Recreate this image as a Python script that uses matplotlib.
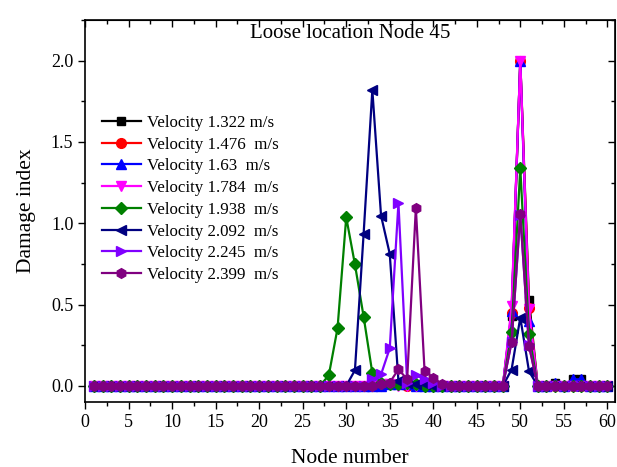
import matplotlib
matplotlib.use('Agg')
from matplotlib import pyplot as plt
from matplotlib.ticker import MultipleLocator

# node numbers 1..60
nodes = list(range(1, 61))

# damage index per velocity
v1322 = [0, 0, 0, 0, 0, 0, 0, 0, 0, 0,
         0, 0, 0, 0, 0, 0, 0, 0, 0, 0,
         0, 0, 0, 0, 0, 0, 0, 0, 0, 0,
         0, 0, 0, 0, 0.01, 0.01, 0.01, 0, 0, 0,
         0, 0, 0, 0, 0, 0, 0, 0, 0.43, 2.0,
         0.53, 0, 0, 0.02, 0, 0.04, 0.04, 0, 0, 0]
v1476 = [0, 0, 0, 0, 0, 0, 0, 0, 0, 0,
         0, 0, 0, 0, 0, 0, 0, 0, 0, 0,
         0, 0, 0, 0, 0, 0, 0, 0, 0, 0,
         0, 0, 0, 0, 0.01, 0.01, 0, 0, 0, 0,
         0, 0, 0, 0, 0, 0, 0, 0, 0.45, 2.0,
         0.48, 0, 0, 0, 0, 0, 0, 0, 0, 0]
v1630 = [0, 0, 0, 0, 0, 0, 0, 0, 0, 0,
         0, 0, 0, 0, 0, 0, 0, 0, 0, 0,
         0, 0, 0, 0, 0, 0, 0, 0, 0, 0,
         0, 0, 0, 0, 0.01, 0.01, 0.01, 0, 0, 0,
         0, 0, 0, 0, 0, 0, 0, 0, 0.46, 2.0,
         0.40, 0, 0, 0.02, 0, 0.04, 0.04, 0, 0, 0]
v1784 = [0, 0, 0, 0, 0, 0, 0, 0, 0, 0,
         0, 0, 0, 0, 0, 0, 0, 0, 0, 0,
         0, 0, 0, 0, 0, 0, 0, 0, 0, 0,
         0, 0, 0, 0.01, 0.01, 0, 0, 0, 0, 0,
         0, 0, 0, 0, 0, 0, 0, 0, 0.49, 2.0,
         0.47, 0, 0, 0, 0, 0, 0, 0, 0, 0]
v1938 = [0, 0, 0, 0, 0, 0, 0, 0, 0, 0,
         0, 0, 0, 0, 0, 0, 0, 0, 0, 0,
         0, 0, 0, 0, 0, 0, 0, 0.066, 0.354, 1.037,
         0.747, 0.425, 0.078, 0.02, 0.01, 0.01, 0.02, 0.01, 0, 0,
         0, 0, 0, 0, 0, 0, 0, 0, 0.33, 1.34,
         0.32, 0, 0, 0, 0, 0, 0, 0, 0, 0]
v2092 = [0, 0, 0, 0, 0, 0, 0, 0, 0, 0,
         0, 0, 0, 0, 0, 0, 0, 0, 0, 0,
         0, 0, 0, 0, 0, 0, 0, 0, 0, 0,
         0.096, 0.937, 1.82, 1.047, 0.812, 0.03, 0.02, 0.01, 0.01, 0,
         0, 0, 0, 0, 0, 0, 0, 0, 0.10, 0.42,
         0.09, 0, 0, 0, 0, 0, 0, 0, 0, 0]
v2245 = [0, 0, 0, 0, 0, 0, 0, 0, 0, 0,
         0, 0, 0, 0, 0, 0, 0, 0, 0, 0,
         0, 0, 0, 0, 0, 0, 0, 0, 0, 0,
         0, 0, 0.04, 0.07, 0.231, 1.125, 0.02, 0.066, 0.04, 0.02,
         0, 0, 0, 0, 0, 0, 0, 0, 0.27, 1.05,
         0.25, 0, 0, 0, 0, 0, 0, 0, 0, 0]
v2399 = [0, 0, 0, 0, 0, 0, 0, 0, 0, 0,
         0, 0, 0, 0, 0, 0, 0, 0, 0, 0,
         0, 0, 0, 0, 0, 0, 0, 0, 0, 0,
         0, 0, 0, 0.01, 0.02, 0.102, 0.04, 1.094, 0.092, 0.05,
         0.01, 0, 0, 0, 0, 0, 0, 0, 0.27, 1.06,
         0.245, 0, 0, 0, 0, 0, 0, 0, 0, 0]

series = [v1322, v1476, v1630, v1784, v1938, v2092, v2245, v2399]
labels = ['Velocity 1.322 m/s', 'Velocity 1.476  m/s', 'Velocity 1.63  m/s',
          'Velocity 1.784  m/s', 'Velocity 1.938  m/s', 'Velocity 2.092  m/s',
          'Velocity 2.245  m/s', 'Velocity 2.399  m/s']
colors = ['black', 'red', 'blue', '#FF00FF', '#008000', '#000080', '#8000FF', '#800080']
markers = ['s', 'o', '^', 'v', 'D', '<', '>', 'h']

plt.rcParams['font.family'] = ['Liberation Serif', 'DejaVu Serif']

fig = plt.figure(figsize=(6.17, 4.67), dpi=100)
ax = fig.add_axes([0.138, 0.139, 0.859, 0.818])

# draw each velocity curve
for ys, lab, c, m in zip(series, labels, colors, markers):
    ms = 6 if m in ('D', 's') else 7
    ax.plot(nodes, ys, color=c, marker=m, markersize=ms, linewidth=1.6,
            markeredgecolor=c, label=lab)

ax.set_xlim(0, 60.9)
ax.set_ylim(-0.1, 2.25)
ax.xaxis.set_major_locator(MultipleLocator(5))
ax.xaxis.set_minor_locator(MultipleLocator(2.5))
ax.yaxis.set_major_locator(MultipleLocator(0.5))
ax.yaxis.set_minor_locator(MultipleLocator(0.25))
ax.yaxis.set_major_formatter(plt.FormatStrFormatter('%.1f'))
ax.tick_params(which='both', direction='out', labelsize=13, width=1)
ax.tick_params(which='major', length=5)
ax.tick_params(which='minor', length=3)

# mirrored ticks on top/right pointing inward, no labels
top = ax.secondary_xaxis('top')
top.xaxis.set_major_locator(MultipleLocator(5))
top.xaxis.set_minor_locator(MultipleLocator(2.5))
top.tick_params(which='both', direction='in', labeltop=False, width=1)
top.tick_params(which='major', length=5)
top.tick_params(which='minor', length=3)
right = ax.secondary_yaxis('right')
right.yaxis.set_major_locator(MultipleLocator(0.5))
right.yaxis.set_minor_locator(MultipleLocator(0.25))
right.tick_params(which='both', direction='in', labelright=False, width=1)
right.tick_params(which='major', length=5)
right.tick_params(which='minor', length=3)

for s in ax.spines.values():
    s.set_linewidth(1.2)

ax.set_xlabel('Node number', fontsize=15.5, labelpad=13)
ax.set_ylabel('Damage index', fontsize=15.5, labelpad=11)
ax.text(0.5, 0.965, 'Loose location Node 45', transform=ax.transAxes,
        ha='center', va='center', fontsize=15)

ax.legend(loc='upper left', bbox_to_anchor=(0.031, 0.752), frameon=False,
          fontsize=12.2, handlelength=2.35, handletextpad=0.35,
          labelspacing=0.34, borderpad=0, borderaxespad=0)

fig.savefig('out.png', dpi=100)
